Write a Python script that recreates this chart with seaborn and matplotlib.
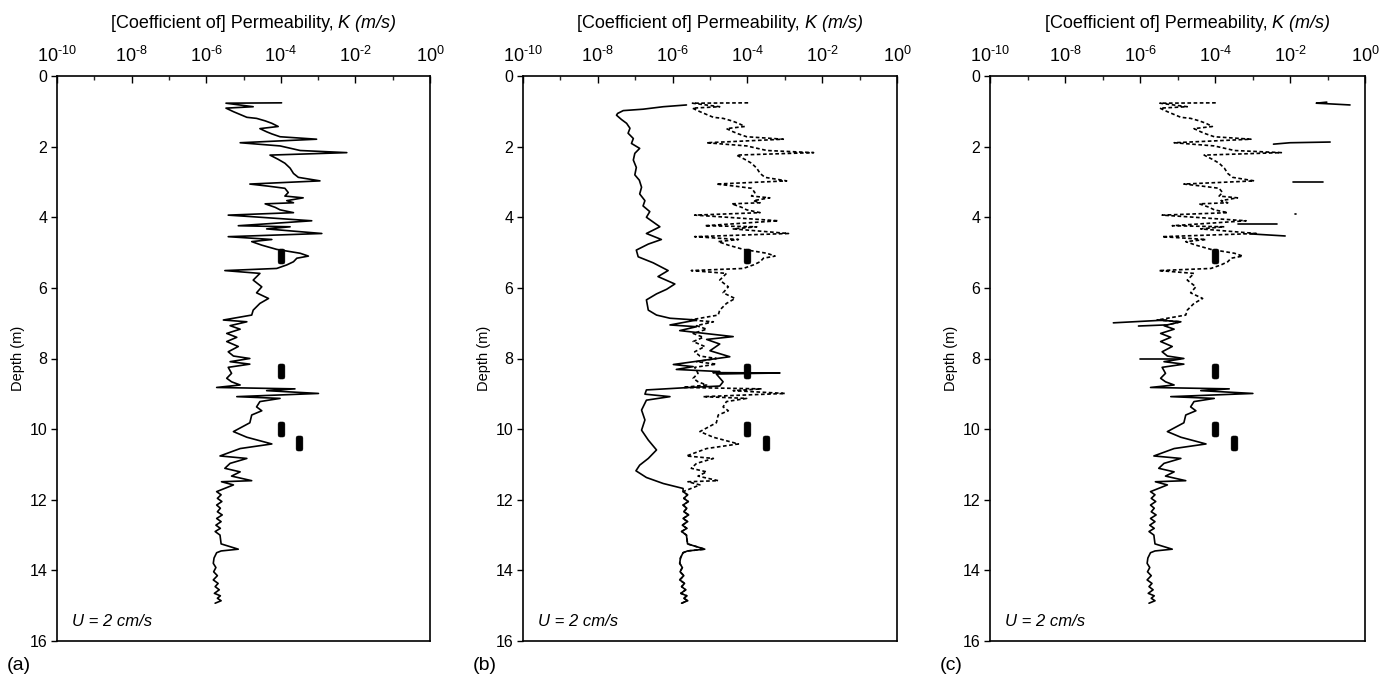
import numpy as np
import pandas as pd
import matplotlib
matplotlib.use("Agg")
import matplotlib.pyplot as plt
from matplotlib.path import Path
from matplotlib.ticker import FixedLocator, FuncFormatter, NullFormatter
import seaborn as sns

# ---- permeability profile: depth (m) and log10 K (m/s) ----
profile_depth = [
    0.76, 0.77, 0.87, 0.91, 1.01, 1.17, 1.20, 1.27, 1.34, 1.43,
    1.49, 1.58, 1.64, 1.72, 1.79, 1.89, 1.98, 2.11, 2.17, 2.24,
    2.36, 2.47, 2.61, 2.76, 2.87, 2.97, 3.06, 3.12, 3.18, 3.30,
    3.40, 3.45, 3.53, 3.59, 3.62, 3.72, 3.79, 3.87, 3.94, 3.98,
    4.10, 4.24, 4.27, 4.33, 4.46, 4.55, 4.63, 4.69, 4.79, 4.91,
    5.02, 5.10, 5.16, 5.26, 5.35, 5.45, 5.51, 5.59, 5.78, 5.97,
    6.14, 6.30, 6.44, 6.63, 6.77, 6.91, 6.96, 7.07, 7.17, 7.29,
    7.40, 7.52, 7.66, 7.81, 7.93, 8.00, 8.09, 8.16, 8.25, 8.42,
    8.56, 8.66, 8.75, 8.82, 8.86, 8.91, 8.99, 9.08, 9.13, 9.22,
    9.37, 9.48, 9.60, 9.82, 10.07, 10.23, 10.42, 10.55, 10.76, 10.83,
    10.97, 11.11, 11.21, 11.33, 11.46, 11.49, 11.58, 11.77, 11.86, 11.96,
    12.05, 12.15, 12.24, 12.34, 12.43, 12.53, 12.62, 12.72, 12.81, 12.90,
    13.00, 13.09, 13.25, 13.40, 13.45, 13.50, 13.65, 13.80, 13.92, 14.04,
    14.15, 14.27, 14.37, 14.46, 14.55, 14.65, 14.72, 14.79, 14.86, 14.93,
]
profile_logk = [
    -3.98, -5.47, -4.74, -5.47, -5.27, -4.91, -4.65, -4.42, -4.24, -4.07,
    -4.56, -4.38, -4.24, -4.02, -3.04, -5.09, -4.02, -3.48, -2.23, -4.29,
    -4.07, -3.89, -3.75, -3.66, -3.53, -2.95, -4.83, -4.33, -3.89, -3.80,
    -3.89, -3.40, -3.84, -3.66, -4.42, -4.15, -4.02, -3.66, -5.41, -4.83,
    -3.17, -5.14, -3.75, -4.38, -2.90, -5.41, -4.24, -4.78, -4.51, -4.11,
    -3.48, -3.26, -3.57, -3.66, -3.84, -4.11, -5.50, -4.56, -4.74, -4.51,
    -4.65, -4.33, -4.56, -4.74, -4.78, -5.54, -4.91, -5.36, -5.09, -5.45,
    -5.18, -5.45, -5.14, -5.41, -5.27, -4.83, -5.36, -4.83, -5.41, -5.32,
    -5.45, -5.32, -5.09, -5.72, -3.62, -4.38, -2.99, -5.18, -4.02, -4.56,
    -4.65, -4.51, -4.78, -4.83, -5.27, -4.91, -4.24, -5.09, -5.63, -4.91,
    -5.36, -5.50, -5.09, -5.32, -4.78, -5.59, -5.27, -5.72, -5.60, -5.70,
    -5.58, -5.72, -5.62, -5.70, -5.57, -5.72, -5.60, -5.74, -5.62, -5.76,
    -5.63, -5.62, -5.60, -5.14, -5.60, -5.72, -5.79, -5.81, -5.74, -5.80,
    -5.70, -5.81, -5.68, -5.76, -5.65, -5.78, -5.62, -5.70, -5.60, -5.76,
]

# ---- corrected profile for panel (b), down to where it rejoins the original ----
corrected_depth = [
    0.82, 0.87, 0.94, 0.98, 1.06, 1.11, 1.23, 1.34, 1.48, 1.62,
    1.77, 1.91, 2.05, 2.19, 2.38, 2.59, 2.80, 2.95, 3.15, 3.34,
    3.53, 3.68, 3.84, 4.00, 4.27, 4.46, 4.63, 4.76, 4.93, 5.12,
    5.29, 5.51, 5.68, 5.89, 6.04, 6.17, 6.34, 6.63, 6.77, 6.86,
    6.91, 7.05, 7.10, 7.21, 7.38, 7.46, 7.59, 7.78, 7.95, 8.17,
    8.23, 8.31, 8.37, 8.40, 8.41, 8.44, 8.66, 8.78, 8.82, 8.89,
    9.01, 9.08, 9.18, 9.46, 9.74, 10.03, 10.31, 10.59, 10.83, 11.02,
    11.18, 11.37, 11.54, 11.68,
]
corrected_logk = [
    -5.63, -6.25, -6.79, -7.32, -7.47, -7.50, -7.37, -7.23, -7.14, -7.19,
    -7.05, -7.10, -6.88, -7.01, -7.05, -6.97, -7.01, -6.89, -6.83, -6.88,
    -6.74, -6.79, -6.61, -6.70, -6.34, -6.70, -6.30, -6.65, -6.97, -6.92,
    -6.52, -6.12, -6.39, -5.94, -6.16, -6.43, -6.70, -6.65, -6.43, -6.07,
    -5.36, -6.07, -5.36, -5.81, -4.38, -5.09, -4.74, -5.00, -4.47, -5.98,
    -5.45, -5.90, -4.74, -4.92, -3.13, -4.83, -4.65, -4.74, -5.54, -6.70,
    -6.74, -6.07, -6.70, -6.83, -6.74, -6.83, -6.65, -6.43, -6.65, -6.88,
    -6.98, -6.70, -6.25, -5.72,
]

# ---- short solid segments of panel (c) ----
seg_id = [0, 0, 0, 0, 1, 1, 1, 2, 2, 3, 3, 4, 4, 5, 5, 6, 6, 7, 7, 8, 8]
seg_depth = [0.74, 0.77, 0.78, 0.82, 1.93, 1.89, 1.87, 3.01, 3.01, 3.92, 3.92,
             4.19, 4.19, 4.47, 4.53, 6.99, 6.91, 7.08, 7.05, 8.02, 8.02]
seg_logk = [-1.02, -1.30, -1.10, -0.40, -2.44, -2.00, -0.93, -1.93, -1.11,
            -1.87, -1.83, -3.38, -2.36, -3.07, -2.13, -6.71, -5.29, -6.04,
            -5.33, -6.00, -4.93]

# ---- sampling ports ----
port_depth = [5.10, 8.35, 10.00, 10.40]
port_logk = [-4.00, -4.00, -4.00, -3.50]

panel_tags = ["(a)", "(b)", "(c)"]
x_exponents = [-10, -8, -6, -4, -2, 0]
depth_ticks = [0, 2, 4, 6, 8, 10, 12, 14, 16]
title_plain = "[Coefficient of] Permeability, "
title_italic = "K (m/s)"

sns.set_theme(style="white")
plt.rcParams["font.family"] = ["Liberation Sans", "DejaVu Sans"]
plt.rcParams["mathtext.fontset"] = "custom"
plt.rcParams["mathtext.rm"] = "Liberation Sans"
plt.rcParams["mathtext.it"] = "Liberation Sans:italic"
plt.rcParams["mathtext.bf"] = "Liberation Sans:bold"
plt.rcParams["axes.unicode_minus"] = False

W, H = 1396, 677
fig = plt.figure(figsize=(W / 100, H / 100), dpi=100)
fig.patch.set_facecolor("white")

boxes = [(57, 373), (523, 374), (990, 375)]
top_px, bot_px = 76, 641
axes = [fig.add_axes([l / W, 1 - bot_px / H, w / W, (bot_px - top_px) / H])
        for l, w in boxes]
for ax in axes:
    ax.set_xscale("log")


def frame(depth, logk, unit=None):
    d = {"depth": depth, "K": 10.0 ** np.asarray(logk, dtype=float)}
    if unit is not None:
        d["unit"] = unit
    return pd.DataFrame(d)


def trace(ax, df, dashed=False, lw=1.2, units=None):
    kw = dict(data=df, x="K", y="depth", sort=False, estimator=None, orient="y",
              color="black", lw=lw, ax=ax, legend=False)
    if units is not None:
        kw["units"] = units
    if dashed:
        kw["linestyle"] = (0, (2.2, 1.5))
    sns.lineplot(**kw)


def power_label(v, pos):
    e = int(round(np.log10(v)))
    return r"$\mathregular{10^{\text{%d}}}$" % e


def port_marker(w=1.0, h=2.2, r=0.3, n=7):
    """Upright rectangle with rounded corners."""
    pts = []
    for cx, cy, a0 in [(w / 2 - r, h / 2 - r, 0), (-w / 2 + r, h / 2 - r, 90),
                       (-w / 2 + r, -h / 2 + r, 180), (w / 2 - r, -h / 2 + r, 270)]:
        for a in np.radians(np.linspace(a0, a0 + 90, n)):
            pts.append((cx + r * np.cos(a), cy + r * np.sin(a)))
    pts.append(pts[0])
    return Path(pts, closed=True)


full = frame(profile_depth, profile_logk)
split_upper = full[full["depth"] <= 7.07]
split_lower = full[full["depth"] >= 6.91]
merged_tail = full[full["depth"] >= 11.77]
corrected = pd.concat([frame(corrected_depth, corrected_logk), merged_tail],
                      ignore_index=True)
segments = frame(seg_depth, seg_logk, seg_id)
ports = frame(port_depth, port_logk)

# panel (a): measured profile
trace(axes[0], full)
# panel (b): measured (dashed) and corrected (solid)
trace(axes[1], full, dashed=True)
trace(axes[1], corrected)
# panel (c): dashed upper part, solid lower part plus high readings
trace(axes[2], split_upper, dashed=True)
trace(axes[2], split_lower)
trace(axes[2], segments, units="unit")

renderer = fig.canvas.get_renderer()
marker = port_marker()
for i, ax in enumerate(axes):
    sns.scatterplot(data=ports, x="K", y="depth", marker=marker, s=118,
                    color="black", edgecolor="black", linewidth=0.3, ax=ax,
                    legend=False, zorder=5)
    ax.set_xlim(1e-10, 1)
    ax.set_ylim(16, 0)
    ax.xaxis.set_major_locator(FixedLocator([10.0 ** e for e in x_exponents]))
    ax.xaxis.set_minor_locator(FixedLocator([10.0 ** e for e in range(-9, 0, 2)]))
    ax.xaxis.set_major_formatter(FuncFormatter(power_label))
    ax.xaxis.set_minor_formatter(NullFormatter())
    ax.xaxis.tick_top()
    ax.tick_params(axis="x", which="major", direction="in", length=5, width=1,
                   labelsize=13, pad=7, colors="black", top=True, bottom=False)
    ax.tick_params(axis="x", which="minor", direction="in", length=3, width=1,
                   top=True, bottom=False)
    ax.set_yticks(depth_ticks)
    ax.tick_params(axis="y", direction="out", length=4.5, width=1, labelsize=11.5,
                   pad=2.5, left=True, right=False, colors="black")
    ax.set_xlabel("")
    ax.set_ylabel("Depth (m)", fontsize=10.5, color="black")
    ax.yaxis.set_label_coords(-0.085, 0.5)
    for s in ax.spines.values():
        s.set_linewidth(1.2)
        s.set_color("black")
    ax.text(10 ** -9.6, 15.45, "U = 2 cm/s", fontsize=12, fontstyle="italic",
            va="center", ha="left", color="black")

    # title in two pieces: plain text followed by the italic symbol and unit
    l, w = boxes[i]
    cx = (l + w / 2 + 10) / W
    ty = 1 - 28 / H
    t1 = fig.text(cx, ty, title_plain, fontsize=13, ha="left", va="baseline",
                  color="black")
    t2 = fig.text(cx, ty, title_italic, fontsize=13, ha="left", va="baseline",
                  fontstyle="italic", color="black")
    w1 = t1.get_window_extent(renderer).width
    w2 = t2.get_window_extent(renderer).width
    x0 = cx * W - (w1 + w2) / 2
    t1.set_x(x0 / W)
    t2.set_x((x0 + w1) / W)

    fig.text((l - 50) / W, 1 - 666 / H, panel_tags[i], fontsize=14,
             ha="left", va="center", color="black")

fig.savefig("out.png", dpi=100, facecolor="white")
